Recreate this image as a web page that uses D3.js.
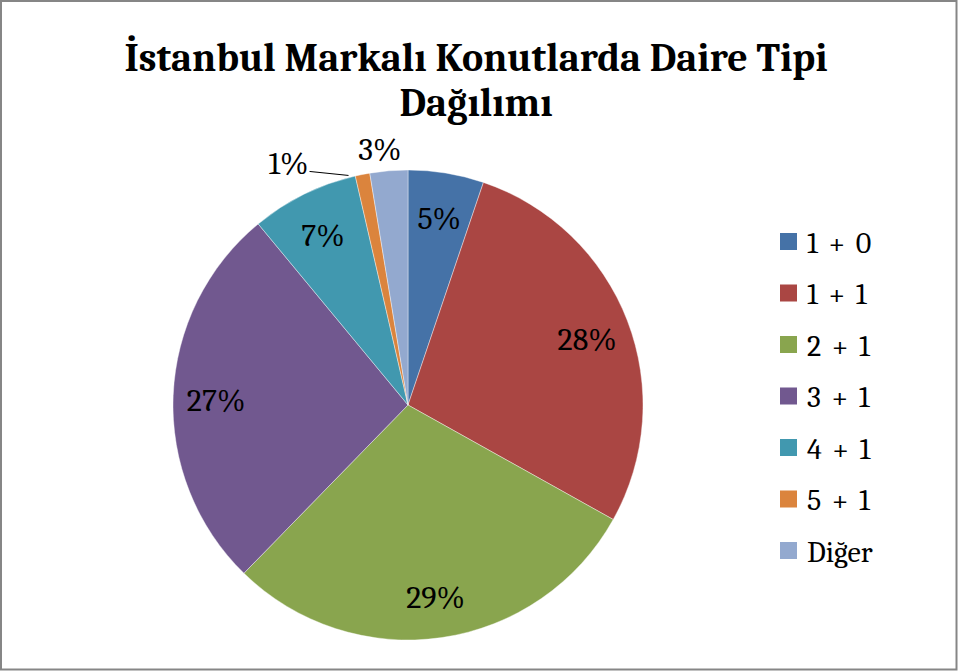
<!DOCTYPE html>
<html><head><meta charset="utf-8">
<script src="https://cdn.jsdelivr.net/npm/d3@7"></script>
<style>body{margin:0;background:#fff}svg{display:block}</style>
</head><body>
<script>
const categories = ["1 + 0","1 + 1","2 + 1","3 + 1","4 + 1","5 + 1","Diğer"];
const values = [5.2, 27.9, 29.2, 26.7, 7.4, 1.0, 2.6];
const labels = ["5%","28%","29%","27%","7%","1%","3%"];
const colors = ["#4572A7","#AA4643","#89A54E","#71588F","#4198AF","#DB843D","#93A9CF"];
const titleLines = ["İstanbul Markalı Konutlarda Daire Tipi","Dağılımı"];

const W = 958, H = 671;
const svg = d3.select("body").append("svg").attr("width", W).attr("height", H);
svg.append("rect").attr("x",1).attr("y",1).attr("width",W-2.5).attr("height",H-2.5)
  .attr("fill","#fff").attr("stroke","#868686").attr("stroke-width",2);

const serif = "Cambria, 'Liberation Serif', 'DejaVu Serif', serif";
const title = svg.append("g");
titleLines.forEach((t,i)=>{
  title.append("text").attr("x",476).attr("y",71+i*45).attr("text-anchor","middle")
    .attr("font-family",serif).attr("font-weight","bold").attr("font-size",40).text(t);
});

const cx = 408, cy = 405, R = 235;
const pie = d3.pie().sort(null).value(d=>d);
const arcs = pie(values);
const arc = d3.arc().innerRadius(0).outerRadius(R);
const g = svg.append("g").attr("transform",`translate(${cx},${cy})`);
g.selectAll("path").data(arcs).join("path").attr("d",arc)
  .attr("fill",(d,i)=>colors[i]).attr("stroke","#fff").attr("stroke-width",0.4);

const fs = 32;
const inArc = d3.arc().innerRadius(192).outerRadius(192);
const outArc = d3.arc().innerRadius(258).outerRadius(258);
const edgeArc = d3.arc().innerRadius(R).outerRadius(R);
arcs.forEach((d,i)=>{
  const share = values[i];
  if (share >= 5) {
    const [x,y] = inArc.centroid(d);
    g.append("text").attr("x",x).attr("y",y+3).attr("text-anchor","middle")
      .attr("dominant-baseline","central").attr("font-family",serif).attr("font-size",fs)
      .attr("fill","#000").text(labels[i]);
  } else if (i === categories.length-1) {
    const [x,y] = outArc.centroid(d);
    g.append("text").attr("x",x-7).attr("y",y+2).attr("text-anchor","middle")
      .attr("dominant-baseline","central").attr("font-family",serif).attr("font-size",fs).text(labels[i]);
  } else {
    const [ex,ey] = edgeArc.centroid(d);
    const p0 = [ex-14, ey+1], p1 = [ex-53, ey-3];
    g.append("path").attr("d",`M${p0[0]},${p0[1]}L${p1[0]},${p1[1]}`)
      .attr("stroke","#000").attr("stroke-width",1).attr("fill","none");
    g.append("text").attr("x",p1[0]-1).attr("y",p1[1]-8).attr("text-anchor","end")
      .attr("dominant-baseline","central").attr("font-family",serif).attr("font-size",fs).text(labels[i]);
  }
});

const leg = svg.append("g").attr("transform","translate(780,242)");
const ly = d3.scalePoint().domain(categories).range([0, 309]);
categories.forEach((c,i)=>{
  const row = leg.append("g").attr("transform",`translate(0,${ly(c)})`);
  row.append("rect").attr("x",0).attr("y",-9).attr("width",17).attr("height",17).attr("fill",colors[i]);
  row.append("text").attr("x",27).attr("y",1).attr("dominant-baseline","central")
    .attr("font-family",serif).attr("font-size",30).attr("word-spacing",4).text(c);
});
</script>
</body></html>
